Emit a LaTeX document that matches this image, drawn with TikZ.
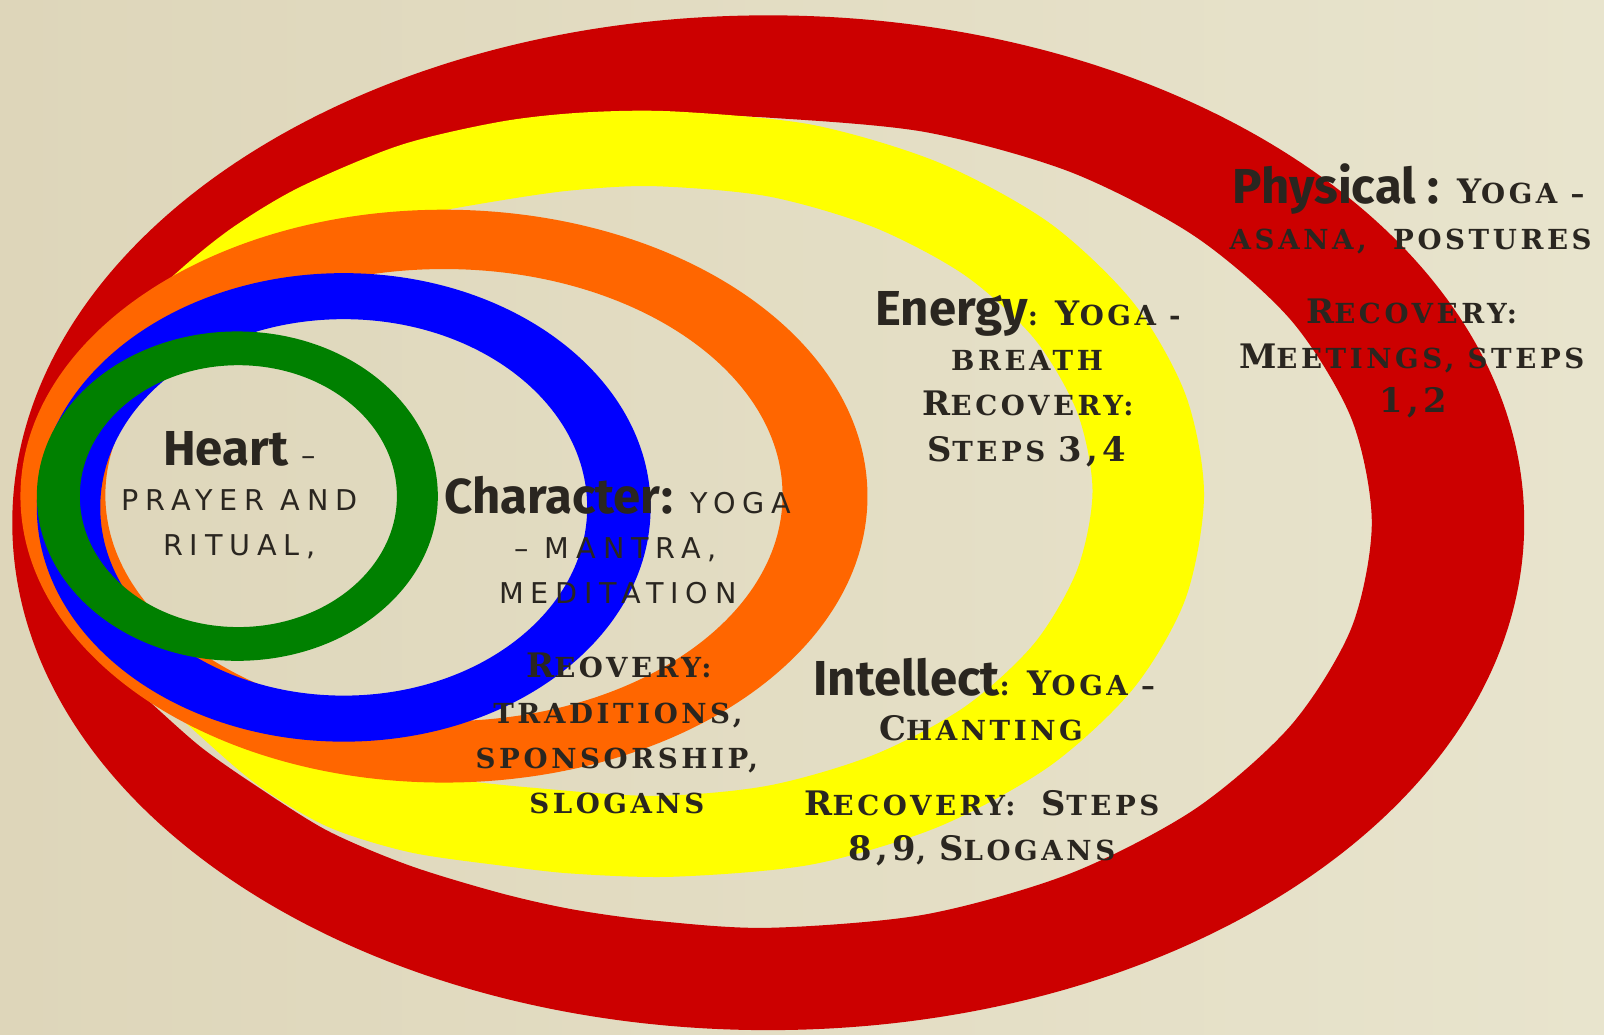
\documentclass[tikz,border=0pt]{standalone}
\usepackage{fontspec}
\newfontfamily\cpfont{DejaVu Serif}[LetterSpace=13]
\newfontfamily\cpsans{DejaVu Sans}[LetterSpace=24]
\newfontfamily\headfont{Fira Sans}
\definecolor{ringred}{HTML}{CC0000}
\definecolor{ringyellow}{HTML}{FFFF00}
\definecolor{ringorange}{HTML}{FF6600}
\definecolor{ringblue}{HTML}{0000FF}
\definecolor{ringgreen}{HTML}{008000}
\definecolor{ink}{HTML}{2A2620}
\definecolor{bgleft}{HTML}{DED6BA}
\definecolor{bgright}{HTML}{E8E4CD}
\newcommand\BigCap[1]{{\fontsize{33}{36}\selectfont #1}}
\newcommand\HeadW[1]{{\headfont\bfseries\fontsize{48}{52}\selectfont #1}}
\newcommand\SansCaps{\cpsans\mdseries\fontsize{28}{30}\selectfont}
\begin{document}
\begin{tikzpicture}[x=1pt,y=-1pt,
  txt/.style={anchor=base, inner sep=0pt, text=ink, font=\cpfont\bfseries\fontsize{27}{30}\selectfont},
  stxt/.style={anchor=base, inner sep=0pt, text=ink, font=\SansCaps},
  ring/.style={even odd rule}]
\useasboundingbox (0,0) rectangle (1568,1011);
\shade[left color=bgleft, right color=bgright] (0,0) rectangle (1568,1011);

% red ring
\fill[ringred, ring] (751,511) ellipse [x radius=739pt, y radius=496pt]
  plot[smooth cycle, tension=0.5] coordinates {(751,115) (904,129) (1046,168) (1168,231) (1262,313) (1321,409) (1341,511) (1321,614) (1262,709) (1168,791) (1046,854) (904,894) (751,907) (640,900) (560,889) (489,873) (400,846) (320,812) (250,768) (196,730) (144,684) (100,645) (60,570) (55,480) (85,390) (130,310) (179,268) (228,228) (293,190) (391,150) (489,125) (570,116) (660,113)};

% yellow ring
\fill[ringyellow, ring]
  plot[smooth cycle, tension=0.5] coordinates {(660,109) (794,122) (918,159) (1026,218) (1108,296) (1159,386) (1177,483) (1159,585) (1108,673) (1026,749) (918,808) (794,845) (660,857) (560,854) (489,846) (400,833) (320,808) (250,766) (183,708) (120,650) (70,570) (55,480) (75,390) (140,300) (179,261) (228,222) (293,183) (391,142) (489,119) (570,110)}
  plot[smooth cycle, tension=0.5] coordinates {(640,182) (751,192) (854,222) (943,269) (1011,331) (1053,403) (1068,480) (1053,557) (1011,629) (943,691) (854,738) (751,768) (640,778) (520,770) (430,760) (330,742) (261,725) (200,700) (130,650) (85,580) (70,500) (90,420) (150,330) (220,270) (300,235) (400,212) (489,196) (560,186)};

% orange ring
\fill[ringorange, ring] (434,485) ellipse [x radius=414pt, y radius=280pt]
  (434,484) ellipse [x radius=331pt, y radius=221pt];

% blue ring
\fill[ringblue, ring] (336,496) ellipse [x radius=300pt, y radius=229pt]
  (336,496) ellipse [x radius=238pt, y radius=184pt];

% green ring
\fill[ringgreen, ring] (232,485) ellipse [x radius=196pt, y radius=161pt]
  (233,485) ellipse [x radius=155pt, y radius=128pt];

% Physical
\node[txt] (ph1) at (1377,199) {\HeadW{Physical :} \BigCap{Y}OGA –};
\node[txt] (ph2) at (1379,244) {ASANA,\ \ POSTURES};
\node[txt] (ph3) at (1380,316) {\BigCap{R}ECOVERY:};
\node[txt] (ph4) at (1380,360) {\BigCap{M}EETINGS, STEPS};
\node[txt] (ph5) at (1382,403) {\BigCap{1,2}};

% Energy
\node[txt] (en1) at (1005,318) {\HeadW{Energy}: \BigCap{Y}OGA -};
\node[txt] (en2) at (1004,362) {BREATH};
\node[txt] (en3) at (1005,406) {\BigCap{R}ECOVERY:};
\node[txt] (en4) at (1004,451) {\BigCap{S}TEPS \BigCap{3,4}};

% Heart
\node[txt] (he1) at (234,455) {\HeadW{Heart} {\SansCaps –}};
\node[stxt] (he2) at (234,499) {PRAYER AND};
\node[stxt] (he3) at (234,543) {RITUAL,};

% Character
\node[txt] (ch1) at (604,502) {\HeadW{Character:} {\SansCaps YOGA}};
\node[stxt] (ch2) at (602,546) {– MANTRA,};
\node[stxt] (ch3) at (604,590) {MEDITATION};
\node[txt] (ch4) at (605,662) {\BigCap{R}EOVERY:};
\node[txt] (ch5) at (604,707) {TRADITIONS,};
\node[txt] (ch6) at (603,751) {SPONSORSHIP,};
\node[txt] (ch7) at (603,795) {SLOGANS};

% Intellect
\node[txt] (in1) at (962,680) {\HeadW{Intellect}: \BigCap{Y}OGA –};
\node[txt] (in2) at (959,724) {\BigCap{C}HANTING};
\node[txt] (in3) at (960,797) {\BigCap{R}ECOVERY:\ \ \BigCap{S}TEPS};
\node[txt] (in4) at (960,841) {\BigCap{8,9}, \BigCap{S}LOGANS};
\end{tikzpicture}
\end{document}
